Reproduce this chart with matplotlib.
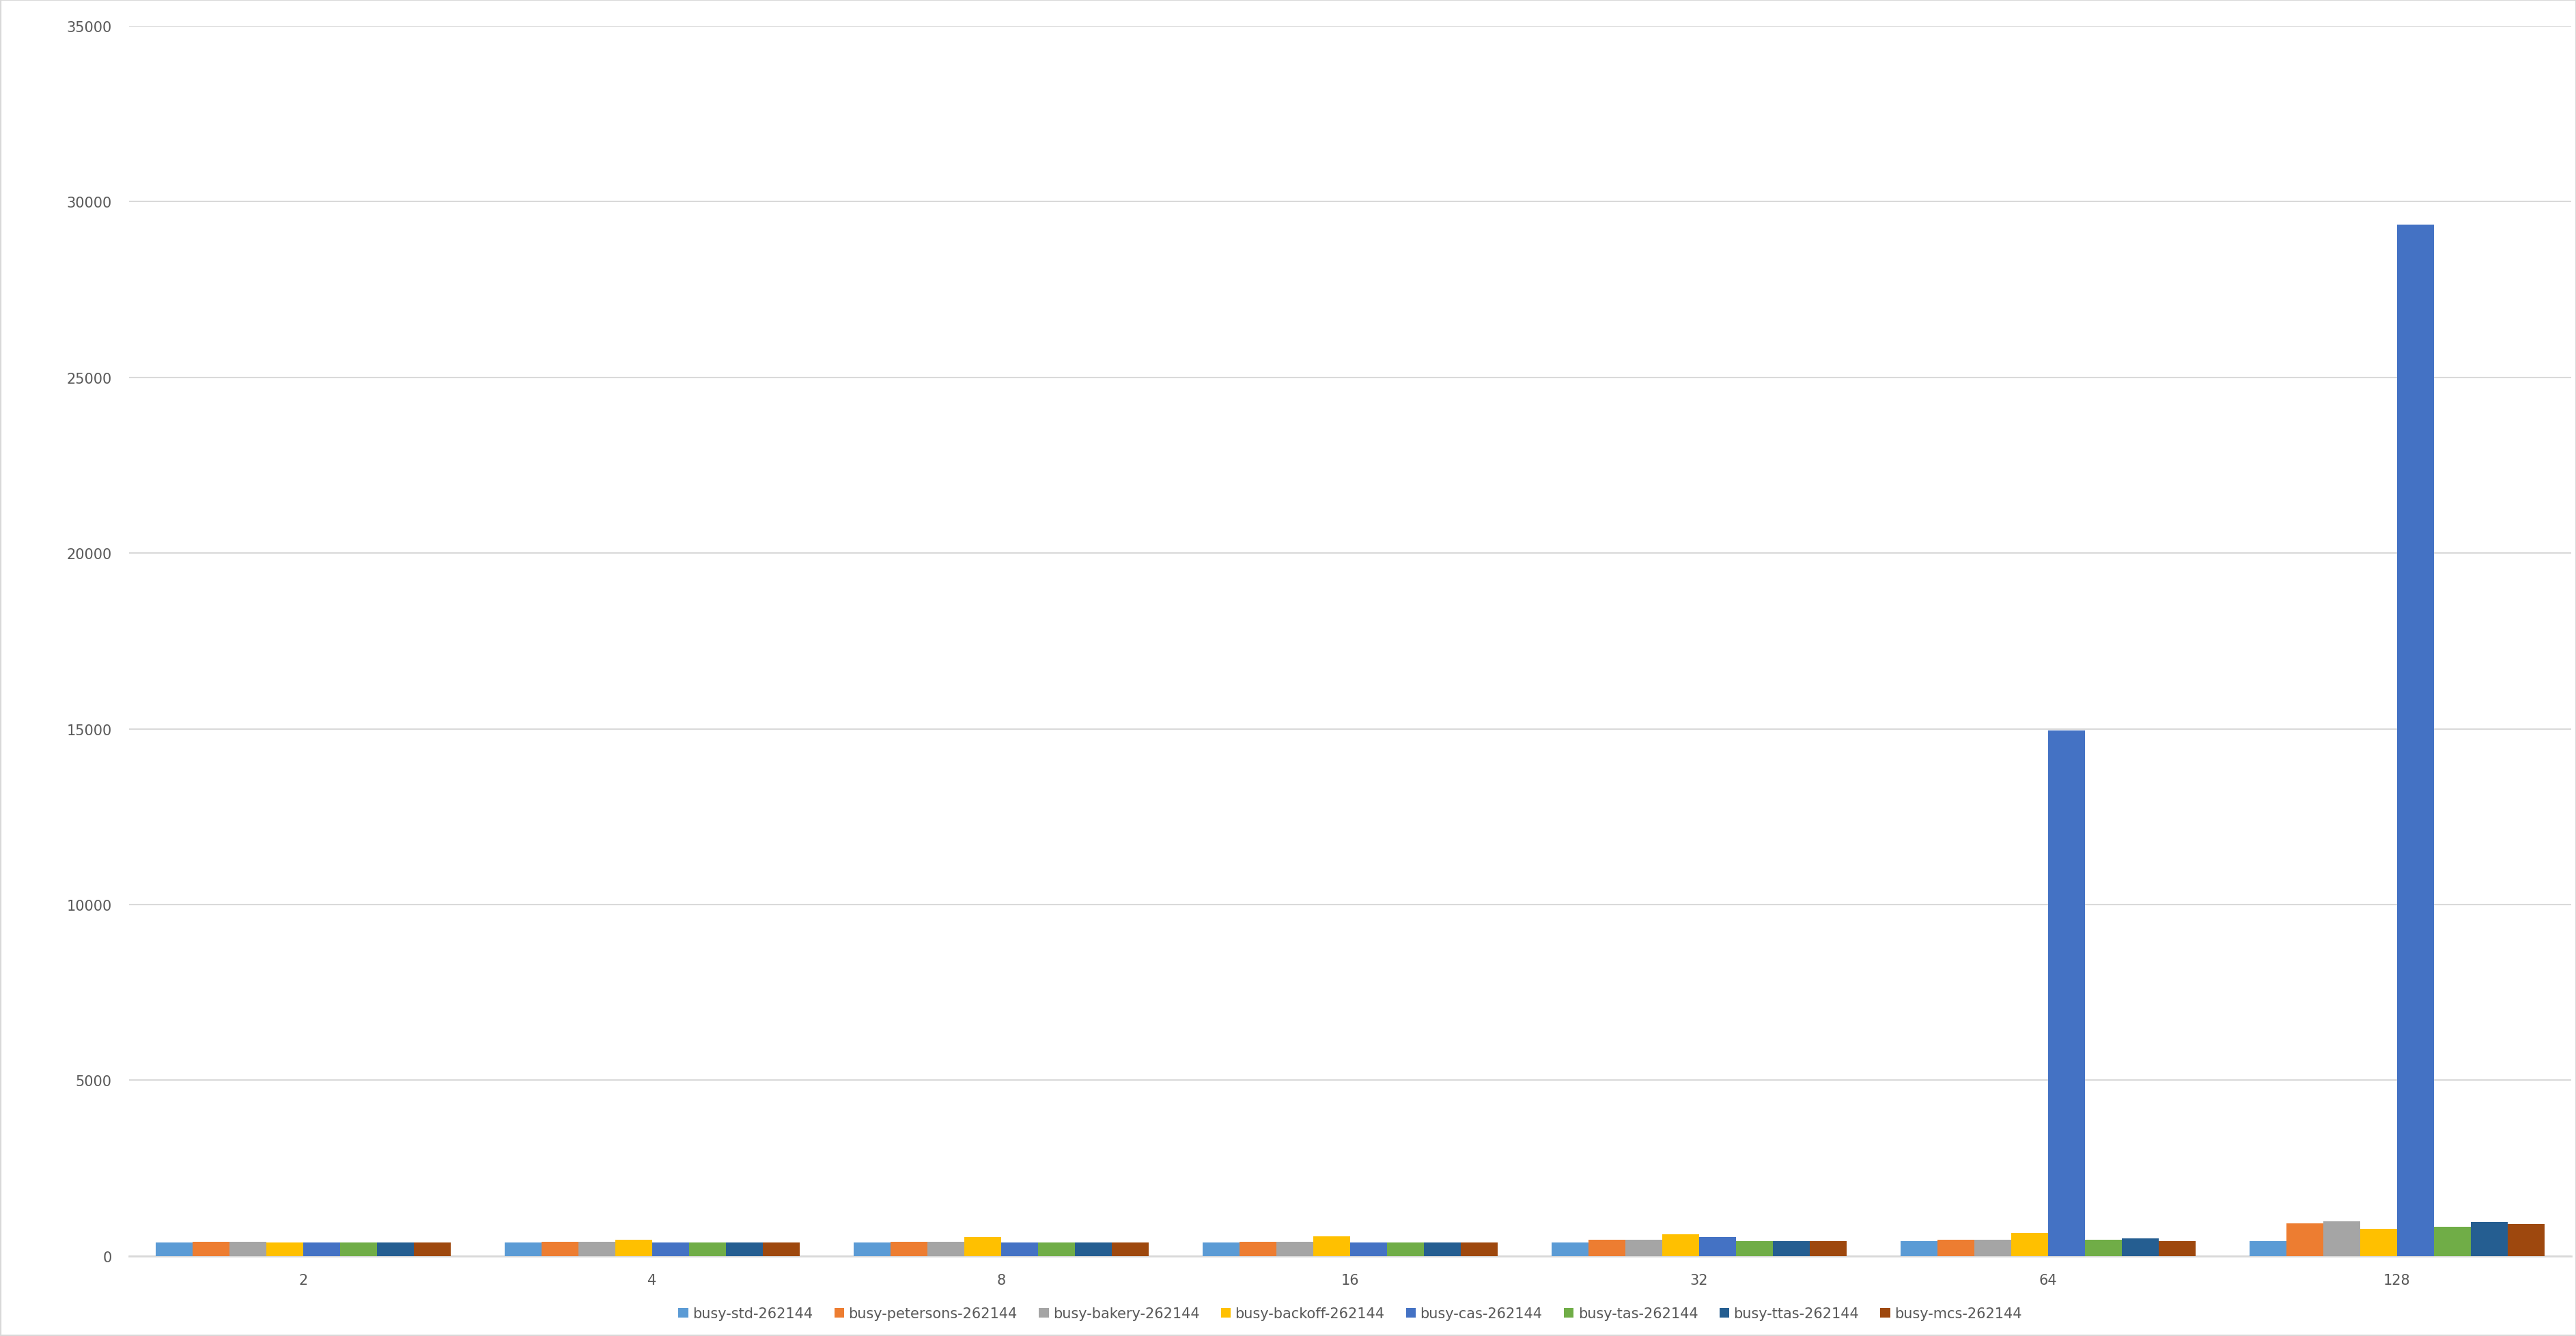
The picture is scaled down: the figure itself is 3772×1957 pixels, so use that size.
import numpy as np
import matplotlib.pyplot as plt

threads = ['2', '4', '8', '16', '32', '64', '128']
series = ['busy-std-262144', 'busy-petersons-262144', 'busy-bakery-262144',
          'busy-backoff-262144', 'busy-cas-262144', 'busy-tas-262144',
          'busy-ttas-262144', 'busy-mcs-262144']
std = [370, 370, 370, 370, 370, 410, 410]
petersons = [403, 403, 403, 403, 455, 455, 930]
bakery = [403, 403, 403, 403, 455, 455, 980]
backoff = [370, 450, 525, 560, 610, 650, 775]
cas = [370, 370, 370, 370, 525, 14950, 29350]
tas = [370, 370, 370, 370, 410, 455, 820]
ttas = [370, 370, 370, 370, 410, 495, 970]
mcs = [370, 370, 370, 370, 410, 410, 900]
values = [std, petersons, bakery, backoff, cas, tas, ttas, mcs]
colors = ['#5B9BD5', '#ED7D31', '#A5A5A5', '#FFC000', '#4472C4', '#70AD47',
          '#255E91', '#9E480E']

fig = plt.figure(figsize=(37.73, 19.58), dpi=100)
ax = fig.add_axes([0.05, 0.06, 0.948, 0.92])

x = np.arange(len(threads))
w = 0.845 / len(series)
for i, (name, vals) in enumerate(zip(series, values)):
    ax.bar(x - 0.4225 + w * (i + 0.5), vals, w, color=colors[i], label=name, zorder=3)

ax.set_xlim(-0.5, len(threads) - 0.5)
ax.set_ylim(0, 35000)
ax.set_yticks(range(0, 35001, 5000))
ax.set_xticks(x)
ax.set_xticklabels(threads)
ax.grid(axis='y', color='#D9D9D9', linewidth=1.5, zorder=0)
for s in ['top', 'right', 'left']:
    ax.spines[s].set_visible(False)
ax.spines['bottom'].set_color('#D9D9D9')
ax.spines['bottom'].set_linewidth(2)
ax.tick_params(length=0, labelsize=15, labelcolor='#595959', pad=18)

ax.legend(loc='lower center', bbox_to_anchor=(0.5, -0.063), ncol=8, frameon=False,
          fontsize=15, labelcolor='#595959', handlelength=0.7, handleheight=0.7,
          handletextpad=0.3, columnspacing=1.5)

fig.patches.append(plt.Rectangle((0, 0), 1, 1, transform=fig.transFigure,
                                 fill=False, edgecolor='#D9D9D9', linewidth=3))
fig.savefig('out.png')
